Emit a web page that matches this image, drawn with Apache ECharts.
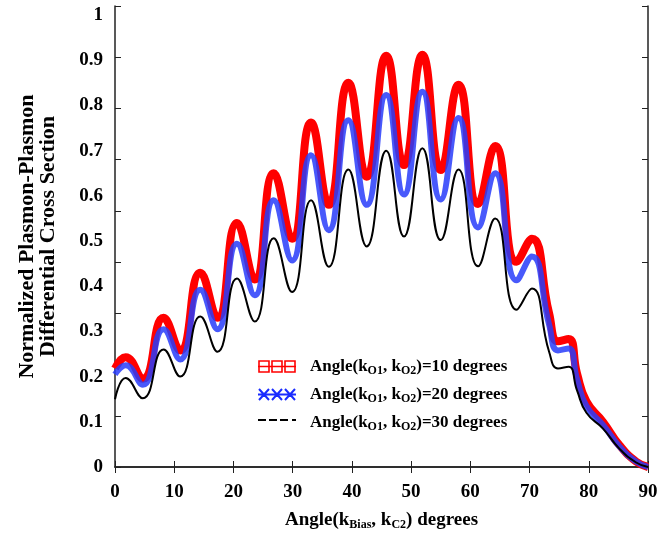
<!DOCTYPE html>
<html>
<head>
<meta charset="utf-8">
<script src="https://cdn.jsdelivr.net/npm/echarts@6/dist/echarts.min.js"></script>
<style>
html, body { margin: 0; padding: 0; background: #fff; }
#main { width: 670px; height: 537px; }
</style>
</head>
<body>
<div id="main"></div>
<script>
// values (angle in degrees)
var angles = [0, 1.8, 4.7, 8.2, 11.0, 14.4, 17.3, 20.6, 23.6, 26.8, 29.9, 33.1, 36.1, 39.4, 42.5, 45.8, 48.8, 51.9, 55.0, 58.0, 61.3, 64.2, 67.8, 70.4, 73.3, 74.8, 76.6, 78.0, 79.6, 82.4, 85.2, 88.0, 90.0];

var deg10 = [0.218, 0.243, 0.195, 0.330, 0.258, 0.430, 0.330, 0.540, 0.415, 0.650, 0.505, 0.762, 0.580, 0.850, 0.642, 0.910, 0.668, 0.912, 0.657, 0.846, 0.582, 0.710, 0.454, 0.505, 0.340, 0.278, 0.283, 0.208, 0.145, 0.100, 0.048, 0.012, 0.0];
var deg20 = [0.205, 0.225, 0.182, 0.305, 0.238, 0.392, 0.305, 0.494, 0.380, 0.590, 0.457, 0.690, 0.524, 0.767, 0.580, 0.823, 0.603, 0.830, 0.592, 0.772, 0.530, 0.650, 0.413, 0.466, 0.315, 0.258, 0.262, 0.195, 0.135, 0.093, 0.045, 0.012, 0.0];
var deg30 = [0.150, 0.197, 0.152, 0.260, 0.200, 0.333, 0.255, 0.417, 0.322, 0.506, 0.387, 0.590, 0.443, 0.658, 0.488, 0.700, 0.510, 0.705, 0.502, 0.658, 0.444, 0.550, 0.348, 0.395, 0.255, 0.218, 0.222, 0.170, 0.120, 0.085, 0.040, 0.010, 0.0];

var names = ['Angle(kO1, kO2)=10 degrees', 'Angle(kO1, kO2)=20 degrees', 'Angle(kO1, kO2)=30 degrees'];

var chart = echarts.init(document.getElementById('main'));

var font = 'Liberation Serif';
function pairs(v) {
	return angles.map(function (a, i) { return [a, v[i]]; });
}
var sub = { fontFamily: font, fontWeight: 'bold', fontSize: 12, padding: [9, 0, 0, 0] };

chart.setOption({
	animation: false,
	grid: { left: 115, right: 22, top: 6, bottom: 70 },
	xAxis: [{
		type: 'value', min: 0, max: 90, interval: 10,
		axisLine: { lineStyle: { color: '#222', width: 1.5 } },
		axisTick: { inside: true, length: 6, lineStyle: { color: '#222' } },
		axisLabel: { margin: 16, color: '#000', fontFamily: font, fontWeight: 'bold', fontSize: 19 },
		splitLine: { show: false },
		name: 'Angle(k{s|Bias}, k{s|C2}) degrees',
		nameLocation: 'middle', nameGap: 43,
		nameTextStyle: { color: '#000', fontFamily: font, fontWeight: 'bold', fontSize: 19, rich: { s: sub } }
	}, {
		type: 'value', position: 'top', min: 0, max: 90, interval: 10,
		axisLine: { lineStyle: { color: '#222', width: 1.5 } },
		axisTick: { inside: true, length: 6, lineStyle: { color: '#222' } },
		axisLabel: { show: false },
		splitLine: { show: false }
	}],
	yAxis: [{
		type: 'value', min: 0, max: 1.02, interval: 0.1,
		axisLine: { show: true, lineStyle: { color: '#222', width: 1.5 } },
		axisTick: { show: false },
		axisLabel: {
			margin: 12, color: '#000', fontFamily: font, fontWeight: 'bold', fontSize: 19,
			formatter: function (v) { return v > 1.001 ? '' : String(Math.round(v * 10) / 10); }
		},
		splitLine: { show: false },
		name: 'Normalized Plasmon-Plasmon\nDifferential Cross Section',
		nameLocation: 'middle', nameGap: 56,
		nameTextStyle: { color: '#000', fontFamily: font, fontWeight: 'bold', fontSize: 22, lineHeight: 21 }
	}, {
		// tick marks of the original frame (9 steps)
		type: 'value', position: 'left', min: 0, max: 9, interval: 1,
		axisLine: { show: false },
		axisTick: { inside: true, length: 6, lineStyle: { color: '#222' } },
		axisLabel: { show: false },
		splitLine: { show: false }
	}, {
		type: 'value', position: 'right', min: 0, max: 9, interval: 1,
		axisLine: { show: true, lineStyle: { color: '#222', width: 1.5 } },
		axisTick: { inside: true, length: 6, lineStyle: { color: '#222' } },
		axisLabel: { show: false },
		splitLine: { show: false }
	}],
	legend: {
		orient: 'vertical', left: 252, top: 353, itemWidth: 38, itemHeight: 11, itemGap: 9,
		symbolKeepAspect: false,
		textStyle: {
			color: '#000', fontFamily: font, fontWeight: 'bold', fontSize: 17, padding: [0, 0, 0, 9],
			rich: { s: sub }
		},
		formatter: function (n) {
			return n.replace('kO1', 'k{s|O1}').replace('kO2', 'k{s|O2}');
		},
		data: [{
			name: names[0],
			icon: 'path://M1,1 h10 v9 h-10 z M14,1 h10 v9 h-10 z M27,1 h10 v9 h-10 z M0,5.5 L38,5.5',
			itemStyle: { color: 'rgba(0,0,0,0)', borderColor: '#ff0000', borderWidth: 1.6 }
		}, {
			name: names[1],
			icon: 'path://M1,0 L11,11 M11,0 L1,11 M14,0 L24,11 M24,0 L14,11 M27,0 L37,11 M37,0 L27,11 M0,5.5 L38,5.5',
			itemStyle: { color: 'rgba(0,0,0,0)', borderColor: '#1a2cff', borderWidth: 2 }
		}, {
			name: names[2],
			icon: 'path://M0,2 h8 v2 h-8 z M11,2 h8 v2 h-8 z M22,2 h8 v2 h-8 z M34,2 h4 v2 h-4 z M0,0 L0,0 M38,11 L38,11',
			itemStyle: { color: '#000', borderWidth: 0 }
		}]
	},
	series: [{
		name: names[0], type: 'line', smooth: 0.5, showSymbol: false,
		data: pairs(deg10), color: '#ff0000',
		lineStyle: { color: '#ff0000', width: 8 }, z: 2
	}, {
		name: names[1], type: 'line', smooth: 0.5, showSymbol: false,
		data: pairs(deg20), color: '#1a2cff',
		lineStyle: { color: 'rgba(40,60,250,0.85)', width: 6 }, z: 3
	}, {
		name: names[2], type: 'line', smooth: 0.5, showSymbol: false,
		data: pairs(deg30), color: '#000',
		lineStyle: { color: '#000', width: 2 }, z: 4
	}]
});
</script>
</body>
</html>
